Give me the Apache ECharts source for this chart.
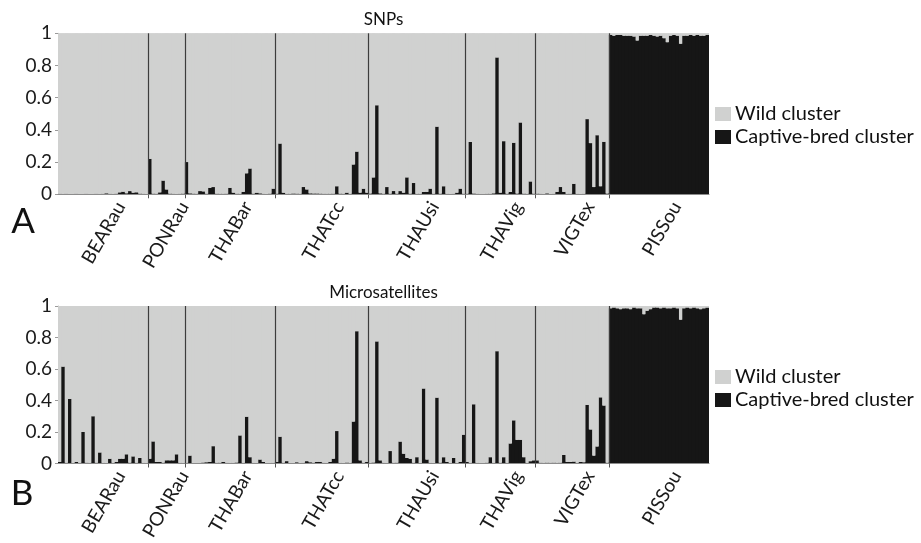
<!DOCTYPE html>
<html><head><meta charset="utf-8">
<script src="https://cdn.jsdelivr.net/npm/echarts@6/dist/echarts.min.js"></script>
<style>html,body{margin:0;padding:0;background:#fff}#c{width:921px;height:543px}</style>
</head><body><div id="c"></div>
<script>
// population names and number of individuals in each
const populations = ['BEARau','PONRau','THABar','THATcc','THAUsi','THAVig','VIGTex','PISSou'];
const popSizes = [27, 11, 27, 28, 29, 21, 22, 30];
const yTicks = [0, 0.2, 0.4, 0.6, 0.8, 1];
const seriesNames = ['Wild cluster', 'Captive-bred cluster'];
const panelTitles = ['SNPs', 'Microsatellites'];

// Panel A (SNPs): captive-bred cluster membership per individual
const snp_BEARau = [0.003,0.002,0.003,0.002,0.002,0.003,0.002,0.002,0.003,0.002,0.002,0.003,0.002,0.003,0.006,0.003,0.002,0.004,0.012,0.016,0.006,0.02,0.01,0.012,0.004,0.003,0.002];
const snp_PONRau = [0.22,0.004,0.003,0.012,0.085,0.03,0.004,0.003,0.002,0.003,0.004];
const snp_THABar = [0.20,0.006,0.004,0.003,0.02,0.018,0.004,0.04,0.045,0.004,0.003,0.003,0.004,0.04,0.01,0.004,0.003,0.015,0.13,0.16,0.004,0.01,0.006,0.003,0.002,0.004,0.035];
const snp_THATcc = [0.004,0.315,0.01,0.003,0.003,0.005,0.004,0.003,0.045,0.03,0.006,0.005,0.005,0.004,0.003,0.003,0.003,0.004,0.05,0.004,0.003,0.01,0.003,0.185,0.265,0.01,0.035,0.01];
const snp_THAUsi = [0.005,0.105,0.553,0.006,0.004,0.045,0.004,0.02,0.004,0.02,0.01,0.105,0.004,0.07,0.003,0.003,0.015,0.015,0.035,0.003,0.42,0.004,0.05,0.003,0.002,0.003,0.01,0.035,0.004];
const snp_THAVig = [0.004,0.325,0.005,0.003,0.002,0.002,0.003,0.003,0.006,0.85,0.01,0.33,0.004,0.015,0.32,0.005,0.446,0.004,0.003,0.08,0.004];
const snp_VIGTex = [0.004,0.003,0.002,0.006,0.002,0.003,0.015,0.045,0.015,0.003,0.003,0.065,0.003,0.002,0.003,0.467,0.318,0.045,0.367,0.05,0.326,0.005];
const snp_PISSou = [0.99,0.985,0.99,0.99,0.985,0.985,0.985,0.98,0.955,0.985,0.985,0.985,0.99,0.985,0.98,0.985,0.97,0.945,0.985,0.99,0.985,0.935,0.985,0.985,0.99,0.985,0.99,0.985,0.985,0.99];

// Panel B (Microsatellites)
const msat_BEARau = [0.01,0.615,0.004,0.41,0.003,0.01,0.004,0.20,0.005,0.004,0.30,0.005,0.07,0.004,0.003,0.03,0.004,0.01,0.03,0.03,0.058,0.005,0.045,0.004,0.035,0.004,0.003];
const msat_PONRau = [0.03,0.14,0.01,0.01,0.005,0.02,0.02,0.02,0.058,0.004,0.003];
const msat_THABar = [0.004,0.05,0.003,0.002,0.003,0.006,0.008,0.01,0.11,0.004,0.005,0.01,0.004,0.003,0.004,0.006,0.178,0.004,0.297,0.04,0.004,0.003,0.025,0.01,0.003,0.002,0.004];
const msat_THATcc = [0.01,0.17,0.004,0.015,0.003,0.003,0.008,0.003,0.004,0.015,0.008,0.005,0.01,0.01,0.004,0.003,0.01,0.03,0.206,0.004,0.003,0.006,0.004,0.266,0.84,0.02,0.004,0.01];
const msat_THAUsi = [0.004,0.006,0.775,0.02,0.004,0.003,0.079,0.004,0.005,0.139,0.062,0.035,0.03,0.004,0.04,0.003,0.476,0.025,0.004,0.003,0.418,0.005,0.04,0.01,0.003,0.035,0.003,0.01,0.183];
const msat_THAVig = [0.01,0.004,0.376,0.004,0.003,0.003,0.005,0.04,0.004,0.713,0.004,0.04,0.004,0.127,0.274,0.15,0.15,0.04,0.004,0.015,0.02];
const msat_VIGTex = [0.02,0.005,0.004,0.005,0.004,0.005,0.004,0.005,0.054,0.01,0.01,0.012,0.004,0.01,0.008,0.372,0.216,0.05,0.108,0.42,0.368,0.005];
const msat_PISSou = [0.985,0.99,0.985,0.98,0.985,0.985,0.98,0.99,0.985,0.985,0.948,0.97,0.98,0.99,0.99,0.985,0.99,0.985,0.985,0.99,0.985,0.913,0.985,0.99,0.985,0.99,0.985,0.98,0.985,0.99];

const snpCaptive = [].concat(snp_BEARau, snp_PONRau, snp_THABar, snp_THATcc, snp_THAUsi, snp_THAVig, snp_VIGTex, snp_PISSou);
const msatCaptive = [].concat(msat_BEARau, msat_PONRau, msat_THABar, msat_THATcc, msat_THAUsi, msat_THAVig, msat_VIGTex, msat_PISSou);
const snpWild = snpCaptive.map(v => +(1 - v).toFixed(4));
const msatWild = msatCaptive.map(v => +(1 - v).toFixed(4));

const N = popSizes.reduce((a, b) => a + b, 0);
const individuals = Array.from({length: N}, (_, i) => String(i + 1));
const bounds = [];
const labelPos = [];
let acc = 0;
const LABEL_SHIFT = 5.3;
popSizes.forEach((n, i) => {
  labelPos.push(acc + n / 2 + LABEL_SHIFT);
  acc += n;
  if (i < popSizes.length - 1) bounds.push(acc);
});
function popLabel(v) {
  let best = 0, d = 1e9;
  labelPos.forEach((p, i) => { if (Math.abs(p - v) < d) { d = Math.abs(p - v); best = i; } });
  return populations[best];
}

const FONT = 'Lato';
const GRAY = '#d0d1d0', BLACK = '#161616';
const grids = [
  {left: 58, top: 33.3, width: 651, height: 161, show: true, backgroundColor: GRAY, borderWidth: 0},
  {left: 58, top: 306, width: 651, height: 160.3, show: true, backgroundColor: GRAY, borderWidth: 0}
];
const xAxes = [], yAxes = [], series = [], legends = [];
const panelData = [[snpCaptive, snpWild], [msatCaptive, msatWild]];
const legendTops = [104, 367];

grids.forEach((g, gi) => {
  const xi = gi * 3;
  // bars (captive-bred) axis, carries the visible baseline
  xAxes.push({
    type: 'category', gridIndex: gi, data: individuals, boundaryGap: true, z: 3,
    axisLine: {show: true, lineStyle: {color: '#8c8c8c', width: 1}},
    axisTick: {show: false}, axisLabel: {show: false}, splitLine: {show: false}
  });
  // population ticks / labels
  xAxes.push({
    type: 'value', gridIndex: gi, min: 0, max: N, position: 'bottom',
    axisLine: {show: false}, splitLine: {show: false},
    axisTick: {show: true, customValues: bounds, length: 4, lineStyle: {color: '#555', width: 1}},
    axisLabel: {
      show: true, customValues: labelPos, rotate: 60, margin: 9,
      formatter: v => popLabel(v),
      fontFamily: FONT, fontSize: 19, color: '#1a1a1a'
    }
  });
  // wild-cluster stack axis (same categories, hidden)
  xAxes.push({
    type: 'category', gridIndex: gi, data: individuals, boundaryGap: true, show: false
  });
  yAxes.push({
    type: 'value', gridIndex: gi, min: 0, max: 1, interval: 0.2,
    axisLine: {show: true, lineStyle: {color: '#bdbdbd'}},
    axisTick: {show: true, length: 3, lineStyle: {color: '#9a9a9a'}},
    splitLine: {show: false},
    axisLabel: {
      fontFamily: FONT, fontSize: 19, color: '#1a1a1a', margin: 6,
      formatter: v => String(+v.toFixed(1))
    }
  });
  const [cap, wild] = panelData[gi];
  // captive-bred membership, slightly widened to close anti-aliasing seams
  series.push({
    name: seriesNames[1], type: 'bar', xAxisIndex: xi, yAxisIndex: gi,
    data: cap, barWidth: '135%',
    itemStyle: {color: BLACK}, silent: true
  });
  // wild membership stacked above captive-bred value
  series.push({
    type: 'bar', xAxisIndex: xi + 2, yAxisIndex: gi, stack: 'w' + gi,
    data: cap, barWidth: '100%', itemStyle: {color: 'rgba(0,0,0,0)'}, silent: true
  });
  series.push({
    name: seriesNames[0], type: 'bar', xAxisIndex: xi + 2, yAxisIndex: gi, stack: 'w' + gi,
    data: wild, barWidth: '100%', itemStyle: {color: GRAY}, silent: true
  });
  series.push({
    type: 'line', xAxisIndex: xi + 1, yAxisIndex: gi, data: [], silent: true,
    markLine: {
      symbol: 'none', silent: true, animation: false, label: {show: false},
      lineStyle: {color: '#3c3c3c', width: 1.2, type: 'solid'},
      data: bounds.map(b => ({xAxis: b}))
    }
  });
  legends.push({
    orient: 'vertical', left: 715, top: legendTops[gi], padding: 0,
    data: [seriesNames[0], seriesNames[1]], icon: 'rect',
    itemWidth: 16, itemHeight: 14, itemGap: 3, selectedMode: false,
    itemStyle: {borderWidth: 0},
    textStyle: {fontFamily: FONT, fontSize: 20, color: '#111', padding: [0, 0, 0, -1]}
  });
});

const chart = echarts.init(document.getElementById('c'), null, {renderer: 'canvas'});
chart.setOption({
  animation: false,
  backgroundColor: '#fff',
  grid: grids,
  xAxis: xAxes,
  yAxis: yAxes,
  legend: legends,
  series: series,
  graphic: [
    {type: 'text', style: {text: panelTitles[0], x: 383.5, y: 20, font: '17px Lato', fill: '#111', textAlign: 'center', textVerticalAlign: 'middle'}},
    {type: 'text', style: {text: panelTitles[1], x: 383.5, y: 293, font: '17px Lato', fill: '#111', textAlign: 'center', textVerticalAlign: 'middle'}},
    {type: 'text', style: {text: 'A', x: 23, y: 222, font: '35px Lato', fill: '#111', textAlign: 'center', textVerticalAlign: 'middle'}},
    {type: 'text', style: {text: 'B', x: 22, y: 494, font: '35px Lato', fill: '#111', textAlign: 'center', textVerticalAlign: 'middle'}}
  ]
});
</script></body></html>
